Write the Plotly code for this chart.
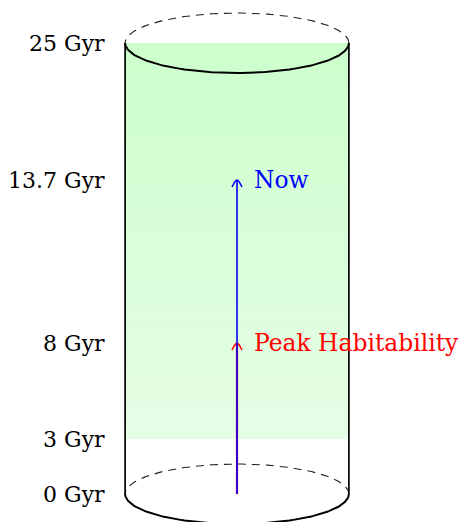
import numpy as np
import plotly.graph_objects as go

# ---- data ----
tick_gyr = [0, 3, 8, 13.7, 25]
tick_labels = ["0 Gyr", "3 Gyr", "8 Gyr", "13.7 Gyr", "25 Gyr"]
event_names = ["Peak Habitability", "Now"]
event_gyr = [8, 13.7]
event_colors = ["#ff0000", "#0000ff"]
habitable_start = 3
habitable_end = 25

# ---- layout constants (scale: Gyr -> vertical drawing position, px) ----
TICK_POS = [494, 439, 343, 180, 43]
def ypos(t):
    return float(np.interp(t, tick_gyr, TICK_POS))

W, H = 459, 522
ML, MR = 124, 109
PX_PER_X = (W - ML - MR) / 2.0
RY = 30
SERIF = "DejaVu Serif"

fig = go.Figure()

# habitable zone gradient fill
y0, y1 = ypos(habitable_start), ypos(habitable_end)
fig.add_trace(go.Scatter(
    x=[-1, 1, 1, -1, -1], y=[y1, y1, y0, y0, y1],
    mode="lines", line=dict(width=0), fill="toself",
    fillgradient=dict(type="vertical",
                      colorscale=[[0, "rgb(230,253,230)"], [1, "rgb(204,255,204)"]]),
    hoverinfo="skip", showlegend=False))

th = np.linspace(0, np.pi, 120)
def ellipse(cy, upper):
    s = -1 if upper else 1
    return np.cos(th), cy + s * RY * np.sin(th)

ytop, ybot = ypos(tick_gyr[-1]), ypos(tick_gyr[0])
for cy in (ytop, ybot):
    x, y = ellipse(cy, True)
    fig.add_trace(go.Scatter(x=x, y=y, mode="lines",
                             line=dict(color="#222222", width=1.1, dash="8px,6px"),
                             hoverinfo="skip", showlegend=False))
    x, y = ellipse(cy, False)
    fig.add_trace(go.Scatter(x=x, y=y, mode="lines",
                             line=dict(color="black", width=2),
                             hoverinfo="skip", showlegend=False))
for xs in (-1, 1):
    fig.add_trace(go.Scatter(x=[xs, xs], y=[ytop, ybot], mode="lines",
                             line=dict(color="black", width=1.7),
                             hoverinfo="skip", showlegend=False))

# event arrows (red first, blue on top)
dx = 5 / PX_PER_X
for name, t, c, lw in zip(event_names, event_gyr, event_colors, [2.2, 1.6]):
    ye = ypos(t)
    fig.add_trace(go.Scatter(x=[-dx, 0, dx], y=[ye + 7, ye, ye + 7], mode="lines",
                             line=dict(color=c, width=1.5, shape="spline"),
                             hoverinfo="skip", showlegend=False))
    fig.add_trace(go.Scatter(x=[0, 0], y=[ybot, ye], mode="lines",
                             line=dict(color=c, width=lw),
                             hoverinfo="skip", showlegend=False))
    fig.add_annotation(x=0, y=ye, text=name, showarrow=False, xanchor="left",
                       yanchor="middle", xshift=15,
                       font=dict(family=SERIF, size=23.4, color=c))

fig.update_layout(
    width=W, height=H, margin=dict(l=ML, r=MR, t=0, b=0),
    paper_bgcolor="white", plot_bgcolor="white",
    xaxis=dict(range=[-1.01, 1.01], visible=False, automargin=False),
    yaxis=dict(range=[H, 0], tickvals=[ypos(t) for t in tick_gyr], ticktext=tick_labels,
               showgrid=False, zeroline=False, showline=False, automargin=False,
               ticks="outside", ticklen=14, tickcolor="rgba(0,0,0,0)",
               tickfont=dict(family=SERIF, size=22, color="black")),
)
fig.write_html("out.html", config={"displayModeBar": False},
               post_script="document.body.style.margin='0';document.body.style.overflow='hidden';")
